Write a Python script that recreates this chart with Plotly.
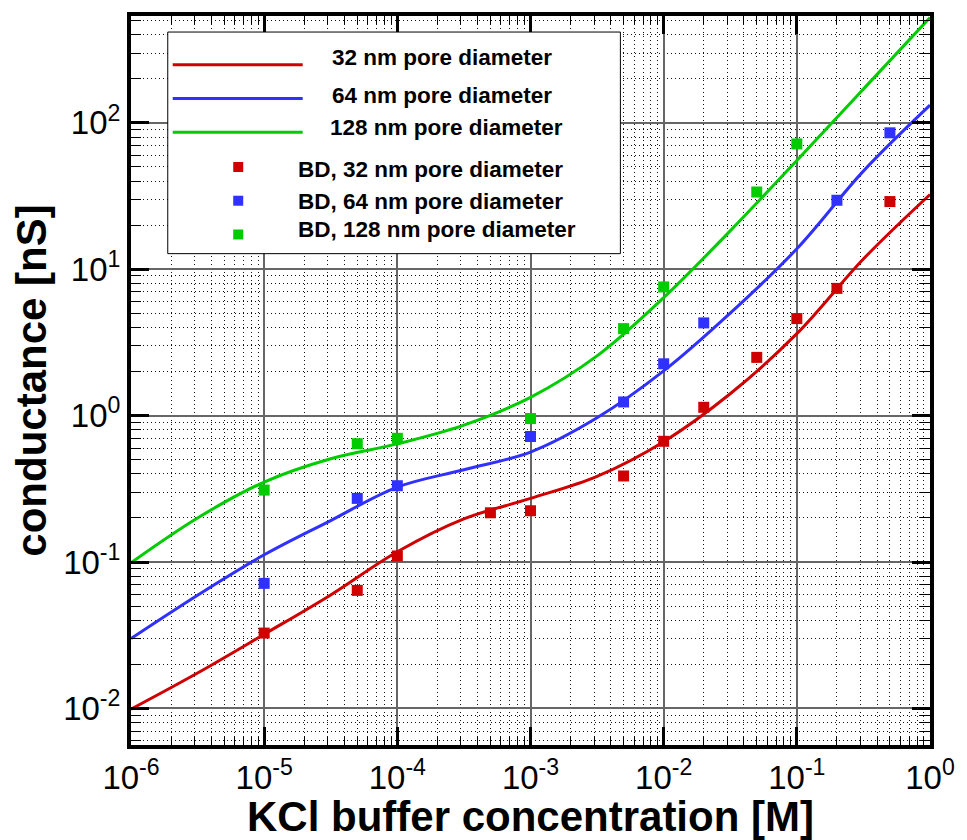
import plotly.graph_objects as go

# ---------------- data ----------------
# model curves: conductance [nS] vs KCl concentration [M], half-decade steps
conc_model = [1e-6, 3.16e-6, 1e-5, 3.16e-5, 1e-4, 3.16e-4, 1e-3, 3.16e-3,
              1e-2, 3.16e-2, 1e-1, 3.16e-1, 1.0]
g_model_32 = [0.00989, 0.01746, 0.0321, 0.0596, 0.1175, 0.197, 0.272, 0.385,
              0.664, 1.41, 3.63, 11.75, 32.4]
g_model_64 = [0.0300, 0.0593, 0.112, 0.192, 0.325, 0.427, 0.564, 0.966,
              2.02, 5.01, 13.8, 46.8, 132.0]
g_model_128 = [0.0989, 0.200, 0.352, 0.508, 0.641, 0.861, 1.334, 2.56,
               6.4, 18.3, 55.3, 170.0, 525.0]

# BD simulation points
conc_bd_32 = [1e-5, 5e-5, 1e-4, 5e-4, 1e-3, 5e-3, 1e-2, 2e-2, 5e-2, 1e-1, 2e-1, 5e-1]
g_bd_32 = [0.0327, 0.064, 0.11, 0.217, 0.224, 0.387, 0.668, 1.14, 2.5, 4.6, 7.4, 29.0]
conc_bd_64 = [1e-5, 5e-5, 1e-4, 1e-3, 5e-3, 1e-2, 2e-2, 2e-1, 5e-1]
g_bd_64 = [0.0715, 0.272, 0.332, 0.72, 1.24, 2.26, 4.3, 29.6, 85.5]
conc_bd_128 = [1e-5, 5e-5, 1e-4, 1e-3, 5e-3, 1e-2, 5e-2, 1e-1]
g_bd_128 = [0.31, 0.643, 0.70, 0.955, 3.93, 7.57, 33.7, 71.8]

series_names = ["32 nm pore diameter", "64 nm pore diameter", "128 nm pore diameter"]
bd_names = ["BD, 32 nm pore diameter", "BD, 64 nm pore diameter", "BD, 128 nm pore diameter"]
colors = ["#d00000", "#3030ff", "#00cc00"]

x_exponents = [-6, -5, -4, -3, -2, -1, 0]
y_exponents = [-2, -1, 0, 1, 2]

FONT = "Arial, 'Liberation Sans', sans-serif"

fig = go.Figure()

model_y = [g_model_32, g_model_64, g_model_128]
for name, ys, col in zip(series_names, model_y, colors):
    fig.add_trace(go.Scatter(x=conc_model, y=ys, mode="lines", name=name,
                             line=dict(color=col, width=3, shape="spline",
                                       smoothing=1.0),
                             showlegend=False))

bd_x = [conc_bd_32, conc_bd_64, conc_bd_128]
bd_y = [g_bd_32, g_bd_64, g_bd_128]
for name, xs, ys, col in zip(bd_names, bd_x, bd_y, colors):
    fig.add_trace(go.Scatter(x=xs, y=ys, mode="markers", name=name,
                             marker=dict(symbol="square", size=11, color=col,
                                         line=dict(width=0)),
                             showlegend=False))

# ---------------- axes ----------------
def minor_vals(exps):
    vals = []
    for e in range(min(exps) - 1, max(exps) + 1):
        for k in range(2, 10):
            vals.append(k * 10.0 ** e)
    return vals

def axis_style(exps, title, minor_len, rng):
    return dict(
        type="log", range=rng,
        tickmode="array",
        tickvals=[10.0 ** e for e in exps],
        ticktext=["10<sup>%d</sup>" % e for e in exps],
        tickfont=dict(family=FONT, size=33, color="black"),
        ticks="inside", ticklen=18, tickwidth=3, tickcolor="black",
        showline=True, linewidth=4, linecolor="black", mirror="allticks",
        showgrid=True, gridcolor="#666666", gridwidth=1.5,
        minor=dict(tickmode="array", tickvals=minor_vals(exps),
                   ticks="inside", ticklen=minor_len, tickwidth=1,
                   tickcolor="black", showgrid=True, gridcolor="#111111",
                   gridwidth=1, griddash="1px,3px"),
        title=dict(text=title, font=dict(family=FONT, size=42, color="black",
                                         weight="bold")),
    )

xa = axis_style(x_exponents, "KCl buffer concentration [M]", 8, [-6, 0])
xa["title"]["standoff"] = 3
ya = axis_style(y_exponents, "conductance [nS]", 10, [-2.25, 2.73])
ya["title"]["standoff"] = 4

# ---------------- legend (drawn in paper coordinates) ----------------
shapes = [dict(type="rect", xref="paper", yref="paper",
               x0=0.046, x1=0.6125, y0=0.674, y1=0.978,
               line=dict(color="black", width=1), fillcolor="white", layer="above")]
annotations = []
line_rows = [0.9332, 0.8869, 0.8406]
text_rows = [(0.3888, 0.9425), (0.3888, 0.8915), (0.395, 0.8465)]
for col, yrow, (tx, ty), name in zip(colors, line_rows, text_rows, series_names):
    shapes.append(dict(type="line", xref="paper", yref="paper",
                       x0=0.0522, x1=0.2149, y0=yrow, y1=yrow,
                       line=dict(color=col, width=3), layer="above"))
    annotations.append(dict(xref="paper", yref="paper", x=tx, y=ty, text=name,
                            showarrow=False, xanchor="center", yanchor="middle",
                            font=dict(family=FONT, size=22.5, color="black",
                                      weight="bold")))
mark_rows = [0.7929, 0.7466, 0.7003]
bd_text_rows = [(0.3752, 0.7890), (0.3752, 0.7455), (0.3826, 0.7074)]
for col, yrow, (tx, ty), name in zip(colors, mark_rows, bd_text_rows, bd_names):
    shapes.append(dict(type="rect", xref="paper", yref="paper",
                       xsizemode="pixel", ysizemode="pixel",
                       xanchor=0.1342, yanchor=yrow,
                       x0=-5, x1=5, y0=-5, y1=5,
                       line=dict(width=0), fillcolor=col, layer="above"))
    annotations.append(dict(xref="paper", yref="paper", x=tx, y=ty, text=name,
                            showarrow=False, xanchor="center", yanchor="middle",
                            font=dict(family=FONT, size=22.5, color="black",
                                      weight="bold")))

fig.update_layout(
    width=967, height=840,
    margin=dict(l=131, r=31, t=13, b=93),
    paper_bgcolor="white", plot_bgcolor="white",
    xaxis=xa, yaxis=ya,
    shapes=shapes, annotations=annotations,
    showlegend=False,
    font=dict(family=FONT, color="black"),
)

fig.write_html("out.html")
